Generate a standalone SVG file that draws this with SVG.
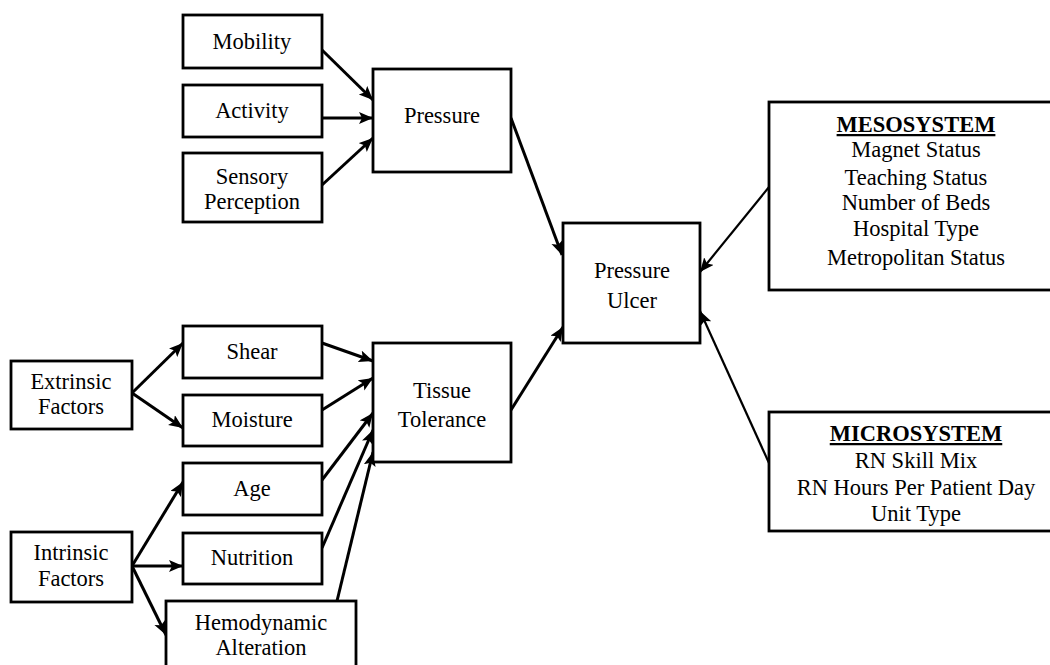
<svg xmlns="http://www.w3.org/2000/svg" width="1050" height="665" viewBox="0 0 1050 665">
<style>
  .box{fill:#fff;stroke:#000;stroke-width:2.8}
  .t{font-family:"Liberation Serif","Times New Roman",serif;font-size:22.5px;fill:#000;text-anchor:middle}
  .h{font-weight:bold;text-decoration:underline}
  .c{stroke:#000;stroke-width:3;fill:none;marker-end:url(#ah)}
  .c2{stroke:#000;stroke-width:2.2;fill:none;marker-end:url(#ah)}
</style>
<defs>
  <marker id="ah" markerUnits="userSpaceOnUse" markerWidth="16" markerHeight="13" refX="14" refY="6" orient="auto">
    <path d="M0,0 L14,6 L0,12 L3,6 z" fill="#000"/>
  </marker>
</defs>
<rect width="1050" height="665" fill="#fff"/>
<g id="connectors">
  <line class="c" x1="322" y1="50" x2="373" y2="100"/>
  <line class="c" x1="322" y1="118" x2="373" y2="118"/>
  <line class="c" x1="322" y1="185" x2="373" y2="138"/>
  <line class="c" x1="511" y1="118" x2="562" y2="255"/>
  <line class="c" x1="511" y1="410" x2="563" y2="327"/>
  <line class="c2" x1="769" y1="187" x2="700" y2="272"/>
  <line class="c2" x1="769" y1="463" x2="700" y2="311"/>
  <line class="c" x1="132" y1="393" x2="183" y2="343"/>
  <line class="c" x1="132" y1="393" x2="183" y2="428"/>
  <line class="c" x1="132" y1="566" x2="183" y2="482"/>
  <line class="c" x1="132" y1="566" x2="183" y2="566"/>
  <line class="c" x1="132" y1="566" x2="166" y2="635"/>
  <line class="c" x1="322" y1="343" x2="373" y2="361"/>
  <line class="c" x1="322" y1="410" x2="373" y2="378"/>
  <line class="c" x1="322" y1="480" x2="373" y2="413"/>
  <line class="c" x1="322" y1="548" x2="373" y2="430"/>
  <line class="c" x1="337" y1="601" x2="373" y2="452"/>
</g>
<g id="mobility"><rect class="box" x="183" y="15" width="139" height="53"/><text class="t" x="252" y="49">Mobility</text></g>
<g id="activity"><rect class="box" x="183" y="85" width="139" height="52"/><text class="t" x="252" y="118">Activity</text></g>
<g id="sensory"><rect class="box" x="183" y="153" width="139" height="69"/><text class="t" x="252" y="184">Sensory</text><text class="t" x="252" y="209">Perception</text></g>
<g id="pressure"><rect class="box" x="373" y="69" width="138" height="103"/><text class="t" x="442" y="123">Pressure</text></g>
<g id="extrinsic"><rect class="box" x="11" y="361" width="121" height="68"/><text class="t" x="71" y="389">Extrinsic</text><text class="t" x="71" y="414">Factors</text></g>
<g id="intrinsic"><rect class="box" x="11" y="532" width="121" height="70"/><text class="t" x="71" y="560">Intrinsic</text><text class="t" x="71" y="586">Factors</text></g>
<g id="shear"><rect class="box" x="183" y="326" width="139" height="52"/><text class="t" x="252" y="359">Shear</text></g>
<g id="moisture"><rect class="box" x="183" y="395" width="139" height="51"/><text class="t" x="252" y="427">Moisture</text></g>
<g id="age"><rect class="box" x="183" y="463" width="139" height="52"/><text class="t" x="252" y="496">Age</text></g>
<g id="nutrition"><rect class="box" x="183" y="533" width="139" height="51"/><text class="t" x="252" y="565">Nutrition</text></g>
<g id="hemodynamic"><rect class="box" x="166" y="601" width="190" height="80"/><text class="t" x="261" y="630">Hemodynamic</text><text class="t" x="261" y="655">Alteration</text></g>
<g id="tissue"><rect class="box" x="373" y="343" width="138" height="119"/><text class="t" x="442" y="398">Tissue</text><text class="t" x="442" y="427">Tolerance</text></g>
<g id="ulcer"><rect class="box" x="563" y="223" width="137" height="120"/><text class="t" x="632" y="278">Pressure</text><text class="t" x="632" y="308">Ulcer</text></g>
<g id="mesosystem"><rect class="box" x="769" y="102" width="300" height="188"/>
  <text class="t h" x="916" y="132">MESOSYSTEM</text>
  <text class="t" x="916" y="157">Magnet Status</text>
  <text class="t" x="916" y="185">Teaching Status</text>
  <text class="t" x="916" y="210">Number of Beds</text>
  <text class="t" x="916" y="236">Hospital Type</text>
  <text class="t" x="916" y="265">Metropolitan Status</text>
</g>
<g id="microsystem"><rect class="box" x="769" y="412" width="300" height="119"/>
  <text class="t h" x="916" y="441">MICROSYSTEM</text>
  <text class="t" x="916" y="468">RN Skill Mix</text>
  <text class="t" x="916" y="495">RN Hours Per Patient Day</text>
  <text class="t" x="916" y="521">Unit Type</text>
</g>
</svg>
